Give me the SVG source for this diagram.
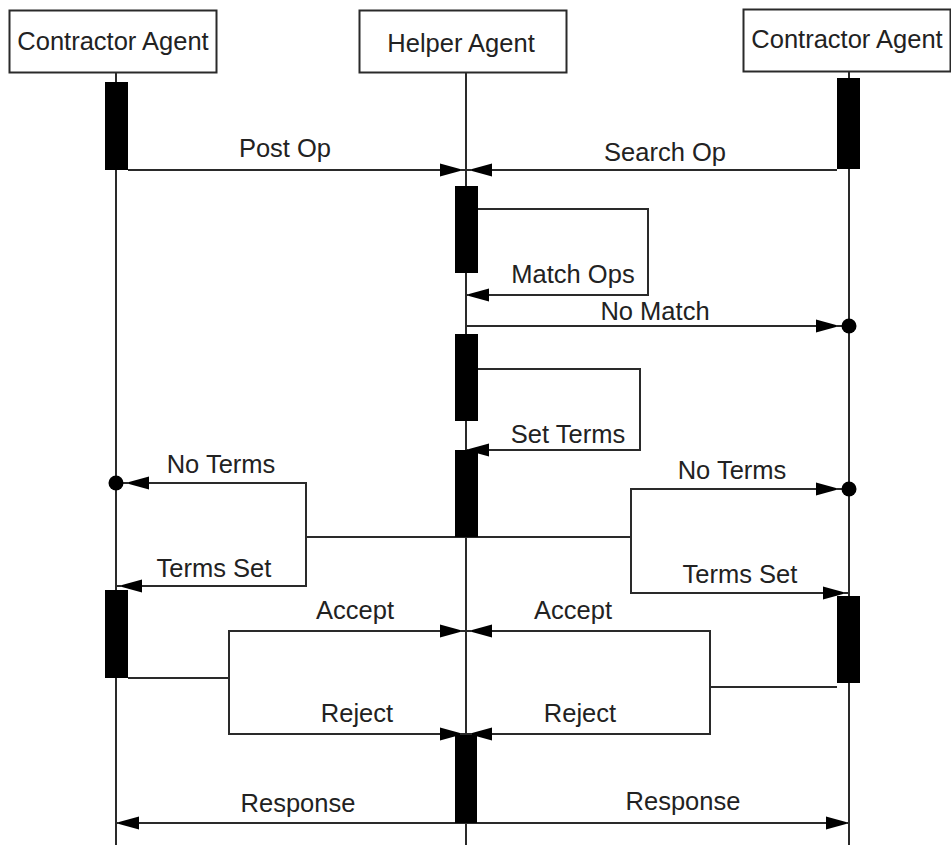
<svg xmlns="http://www.w3.org/2000/svg" width="951" height="845" viewBox="0 0 951 845">
<style>
.box{fill:#fff;stroke:#2a2a2a;stroke-width:2}
.life{fill:none;stroke:#2a2a2a;stroke-width:2}
.bar{fill:#000}
.msg{fill:none;stroke:#2a2a2a;stroke-width:2}
text{font-family:"Liberation Sans",Arial,sans-serif;font-size:25.5px;fill:#222;text-anchor:middle}
</style>
<defs>
<marker id="m6" viewBox="-40 -10 44 20" refX="0" refY="0" markerWidth="44" markerHeight="20" markerUnits="userSpaceOnUse" orient="auto">
<path d="M-26,-6.5 L-6,-1 L-6,1 L-26,6.5 Z" fill="#000"/>
</marker>
<marker id="m3" viewBox="-40 -10 44 20" refX="0" refY="0" markerWidth="44" markerHeight="20" markerUnits="userSpaceOnUse" orient="auto">
<path d="M-23,-6.5 L-3,-1 L-3,1 L-23,6.5 Z" fill="#000"/>
</marker>
<marker id="mc" viewBox="-40 -10 50 20" refX="0" refY="0" markerWidth="50" markerHeight="20" markerUnits="userSpaceOnUse" orient="auto">
<path d="M-33,-6.5 L-13,-1 L-13,1 L-33,6.5 Z" fill="#000"/>
<circle cx="0" cy="0" r="7.5" fill="#000"/>
</marker>
</defs>

<g id="lifelines">
<path class="life" d="M116 72 V845"/>
<path class="life" d="M466 72 V845"/>
<path class="life" d="M849 71 V845"/>
</g>

<g id="connectors">
<path class="msg" d="M128 170 H466" marker-end="url(#m6)"/>
<path class="msg" d="M837 170 H466" marker-end="url(#m6)"/>
<path class="msg" d="M478 209 H648 V295 H466" marker-end="url(#m3)"/>
<path class="msg" d="M466 326 H849" marker-end="url(#mc)"/>
<path class="msg" d="M478 369 H640 V450 H466" marker-end="url(#m3)"/>
<path class="msg" d="M306 537 H631"/>
<path class="msg" d="M306 537 V483 H116" marker-end="url(#mc)"/>
<path class="msg" d="M306 537 V586 H116" marker-end="url(#m6)"/>
<path class="msg" d="M631 537 V489 H849" marker-end="url(#mc)"/>
<path class="msg" d="M631 537 V593 H849" marker-end="url(#m6)"/>
<path class="msg" d="M128 678 H229 V631 H466" marker-end="url(#m6)"/>
<path class="msg" d="M229 678 V734 H466" marker-end="url(#m6)"/>
<path class="msg" d="M837 687 H710 V631 H466" marker-end="url(#m6)"/>
<path class="msg" d="M710 687 V734 H466" marker-end="url(#m6)"/>
<path class="msg" d="M466 823 H116" marker-end="url(#m3)"/>
<path class="msg" d="M466 823 H849" marker-end="url(#m3)"/>
</g>

<g id="contractor-left">
<rect class="box" x="9.5" y="10.5" width="207" height="62"/>
<text x="113" y="50">Contractor Agent</text>
<rect class="bar" x="105" y="82" width="23" height="88"/>
<rect class="bar" x="105" y="590" width="23" height="88"/>
</g>
<g id="helper">
<rect class="box" x="359.5" y="10.5" width="207" height="62"/>
<text x="461" y="52">Helper Agent</text>
<rect class="bar" x="455" y="186" width="23" height="87"/>
<rect class="bar" x="455" y="334" width="23" height="87"/>
<rect class="bar" x="455" y="450" width="23" height="87"/>
<rect class="bar" x="455" y="735" width="22" height="88"/>
</g>
<g id="contractor-right">
<rect class="box" x="743.5" y="9.5" width="207" height="62"/>
<text x="847" y="48">Contractor Agent</text>
<rect class="bar" x="837" y="78" width="23" height="91"/>
<rect class="bar" x="837" y="596" width="23" height="87"/>
</g>

<g id="labels">
<text x="285" y="157">Post Op</text>
<text x="665" y="161">Search Op</text>
<text x="573" y="283">Match Ops</text>
<text x="655" y="320">No Match</text>
<text x="568" y="443">Set Terms</text>
<text x="221" y="473">No Terms</text>
<text x="732" y="479">No Terms</text>
<text x="214" y="577">Terms Set</text>
<text x="740" y="583">Terms Set</text>
<text x="355" y="619">Accept</text>
<text x="573" y="619">Accept</text>
<text x="357" y="722">Reject</text>
<text x="580" y="722">Reject</text>
<text x="298" y="812">Response</text>
<text x="683" y="810">Response</text>
</g>
</svg>
